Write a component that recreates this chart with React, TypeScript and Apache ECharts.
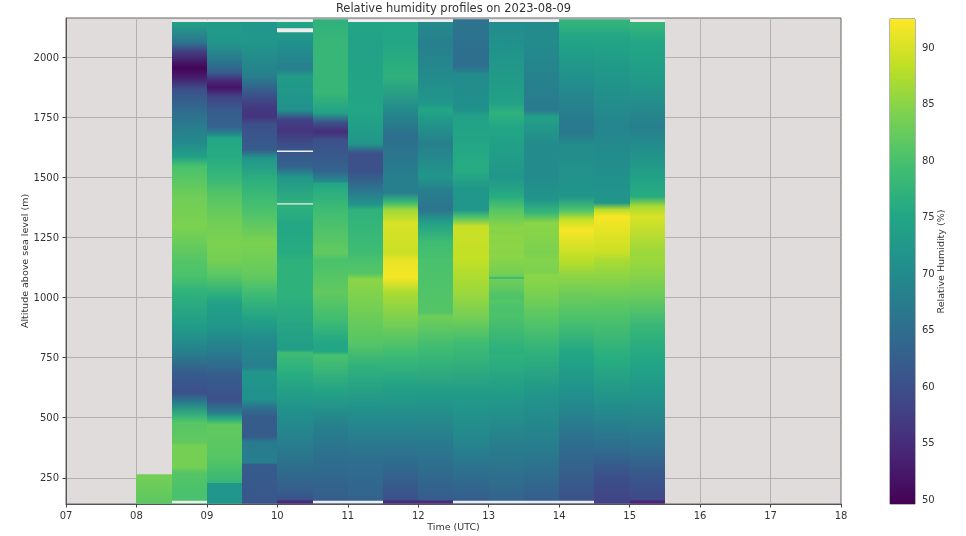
import React, { useEffect, useRef } from "react";
import * as echarts from "echarts";

const TITLE = "Relative humidity profiles on 2023-08-09";
const hourLabels = ["07", "08", "09", "10", "11", "12", "13", "14", "15", "16", "17", "18"];
const altitudeTicks = [250, 500, 750, 1000, 1250, 1500, 1750, 2000];
const humidityTicks = [50, 55, 60, 65, 70, 75, 80, 85, 90];

// Column start times (hour UTC); each column lasts half an hour.
const columnStarts = [8, 8.5, 9, 9.5, 10, 10.5, 11, 11.5, 12, 12.5, 13, 13.5, 14, 14.5, 15];
const columnWidth = 0.5;

// Each profile: [altitude m, relative humidity %], from top to bottom.
const p0800 = [[265, 83.5], [142, 81.5]];
const p0830 = [[2146, 74], [2060, 66], [2020, 57], [1955, 50], [1915, 53], [1865, 60], [1750, 66], [1640, 70], [1585, 74], [1545, 80], [1420, 83], [1295, 84], [1200, 82], [1155, 81], [1085, 80], [1020, 77], [880, 73], [770, 68], [687, 62], [604, 60], [562, 68], [505, 78], [480, 81], [395, 82], [385, 83.5], [295, 83.5], [270, 81], [188, 80], [142, 80]];
const p0900 = [[2146, 73], [2060, 72], [1990, 67], [1935, 62], [1898, 54], [1873, 52], [1836, 58], [1780, 62], [1710, 63], [1677, 70], [1665, 75], [1585, 76], [1502, 78], [1420, 81], [1323, 83], [1228, 84], [1155, 83.5], [1085, 81], [1020, 77], [978, 74], [880, 72], [770, 67], [670, 62], [575, 60], [520, 68], [491, 77], [470, 82], [325, 81], [229, 78], [227, 72], [142, 72]];
const p0930 = [[2146, 72], [2060, 72], [1920, 68], [1850, 61], [1795, 57], [1752, 56], [1720, 60], [1615, 62], [1580, 72], [1477, 77], [1365, 80], [1228, 84], [1155, 83], [1085, 82], [1020, 79], [907, 74], [824, 70], [712, 68], [690, 72], [575, 71], [545, 66], [505, 62], [421, 62], [400, 67], [312, 68], [305, 62], [142, 61]];
const p1000 = [[2146, 75], [2060, 71], [1950, 68], [1920, 73], [1780, 71], [1740, 58], [1698, 56], [1615, 61], [1545, 63], [1502, 72], [1390, 77], [1295, 75], [1186, 76], [1155, 77], [1020, 77], [783, 73], [770, 79], [677, 76], [533, 71], [395, 68], [188, 62], [158, 60], [154, 55], [142, 55]];
const p1030 = [[2158, 77], [2060, 78], [1850, 78], [1768, 74], [1727, 60], [1690, 55], [1655, 60], [1530, 63], [1482, 70], [1475, 75], [1365, 79], [1186, 82], [1155, 80], [1020, 82], [907, 79], [810, 75], [775, 75], [760, 80], [604, 74], [462, 68], [325, 65], [142, 62]];
const p1100 = [[2146, 75], [2060, 74], [1780, 75], [1640, 72], [1600, 60], [1530, 60], [1450, 66], [1386, 72], [1365, 77], [1186, 79], [1155, 80], [1100, 81], [1075, 85], [990, 84], [810, 81], [712, 77], [533, 71], [325, 65], [142, 63]];
const p1130 = [[2146, 75], [2060, 75], [1920, 77], [1780, 70], [1670, 65], [1500, 68], [1435, 68], [1398, 78], [1365, 86], [1310, 90], [1186, 89], [1155, 91], [1085, 92], [1020, 87], [880, 83], [770, 79], [630, 74], [462, 69], [325, 65], [158, 60], [154, 55], [142, 55]];
const p1200 = [[2146, 70], [2060, 68], [1920, 70], [1810, 72], [1780, 75], [1750, 73], [1640, 68], [1502, 72], [1450, 68], [1365, 66], [1310, 74], [1228, 79], [1155, 80], [936, 81], [920, 83], [790, 79], [604, 73], [395, 67], [158, 62], [154, 55], [142, 55]];
const p1230 = [[2158, 64], [2150, 66], [1960, 65], [1930, 70], [1780, 71], [1750, 74], [1640, 75], [1530, 76], [1450, 72], [1365, 72], [1336, 80], [1295, 89], [1155, 88.5], [1020, 86], [907, 83], [810, 79], [604, 73], [395, 69], [270, 65], [142, 62]];
const p1300 = [[2146, 70], [2060, 71], [1810, 74], [1768, 77], [1710, 75], [1502, 72], [1420, 76], [1365, 81], [1290, 85], [1272, 84.6], [1255, 85.2], [1232, 84.8], [1215, 85.2], [1190, 84.8], [1172, 85], [1150, 84.6], [1120, 84], [1088, 83], [1085, 79], [1078, 79], [1075, 83], [1040, 82], [1020, 81], [1000, 80.4], [985, 81], [950, 80], [925, 80.4], [790, 77], [775, 76.6], [760, 77], [604, 73], [395, 68], [142, 63]];
const p1330 = [[2146, 70], [2060, 70], [1780, 67], [1750, 74], [1640, 70], [1500, 70], [1407, 72], [1353, 78], [1310, 85], [1186, 84], [1155, 84.5], [1103, 84], [1095, 85], [1020, 84], [907, 81], [770, 77], [604, 72], [395, 68], [142, 62]];
const p1400 = [[2158, 78], [2085, 75], [1920, 71], [1740, 67], [1680, 67], [1640, 70], [1420, 72], [1365, 80], [1323, 89], [1280, 92], [1155, 88], [1085, 85], [1020, 83], [907, 80], [770, 75], [604, 71], [395, 65], [142, 60]];
const p1430 = [[2158, 78], [2085, 75], [1920, 72], [1710, 69], [1500, 71], [1394, 72], [1365, 88], [1337, 92], [1186, 89], [1155, 87], [1085, 85], [950, 81], [740, 76], [533, 70], [380, 65], [254, 60], [142, 58]];
const p1500 = [[2146, 78], [2060, 75], [1920, 73], [1710, 68], [1640, 70], [1500, 74], [1420, 76], [1378, 87], [1337, 90], [1186, 86], [1155, 86], [1020, 83], [880, 78], [740, 75], [604, 72], [395, 66], [254, 61], [158, 59], [154, 54], [142, 54]];
const profiles = [p0800, p0830, p0900, p0930, p1000, p1030, p1100, p1130, p1200, p1230, p1300, p1330, p1400, p1430, p1500];

// Altitude spans with no data, per column index: [column, upper altitude, lower altitude].
const noDataSpans = [
  [1, 2156, 2146], [2, 2156, 2146], [3, 2156, 2146], [4, 2156, 2146], [6, 2156, 2146], [7, 2156, 2146],
  [8, 2156, 2146], [10, 2156, 2146], [11, 2156, 2146], [14, 2156, 2146],
  [4, 2120, 2104], [4, 1612, 1606], [4, 1392, 1387],
  [1, 155, 144], [5, 155, 144], [6, 155, 144], [9, 155, 144], [10, 155, 144], [11, 155, 144], [12, 155, 144],
];

const viridis = ["#440154", "#482475", "#414487", "#355f8d", "#2a788e", "#21918c", "#22a884", "#44bf70", "#7ad151", "#bddf26", "#fde725"];
const colorMin = 49.56;
const colorMax = 92.5;

function hexToRgb(h: string) {
  return [parseInt(h.slice(1, 3), 16), parseInt(h.slice(3, 5), 16), parseInt(h.slice(5, 7), 16)];
}
function colorOf(v: number) {
  const t = Math.min(1, Math.max(0, (v - colorMin) / (colorMax - colorMin))) * (viridis.length - 1);
  const i = Math.min(viridis.length - 2, Math.floor(t));
  const f = t - i;
  const a = hexToRgb(viridis[i]);
  const b = hexToRgb(viridis[i + 1]);
  const c = a.map((x, k) => Math.round(x + (b[k] - x) * f));
  return `rgb(${c[0]},${c[1]},${c[2]})`;
}

const renderColumn = (params: any, api: any) => {
  const idx = params.dataIndex;
  const start = columnStarts[idx];
  const stops = profiles[idx];
  const top = stops[0][0];
  const bottom = stops[stops.length - 1][0];
  const x0 = Math.round(api.coord([start, top])[0]);
  const x1 = Math.round(api.coord([start + columnWidth, top])[0]);
  const y0 = api.coord([start, top])[1];
  const y1 = api.coord([start, bottom])[1];
  const colorStops = stops.map(([a, v]) => ({ offset: (top - a) / (top - bottom), color: colorOf(v) }));
  const children: any[] = [
    {
      type: "rect",
      shape: { x: x0, y: y0, width: x1 - x0, height: y1 - y0 },
      style: { fill: new echarts.graphic.LinearGradient(0, 0, 0, 1, colorStops) },
    },
  ];
  noDataSpans
    .filter((s) => s[0] === idx)
    .forEach((s) => {
      const ya = api.coord([start, s[1]])[1];
      const yb = api.coord([start, s[2]])[1];
      children.push({
        type: "rect",
        shape: { x: x0, y: ya, width: x1 - x0, height: yb - ya },
        style: { fill: "#eeecec" },
      });
    });
  return { type: "group", children };
};

const renderColorbar = (_params: any, api: any) => {
  const a = api.coord([0, colorMax]);
  const b = api.coord([1, colorMin]);
  const stops = viridis.map((c, i) => ({ offset: 1 - i / (viridis.length - 1), color: c })).reverse();
  return {
    type: "rect",
    shape: { x: a[0], y: a[1], width: b[0] - a[0], height: b[1] - a[1] },
    style: { fill: new echarts.graphic.LinearGradient(0, 0, 0, 1, stops) },
  };
};

const font = "DejaVu Sans";
const ink = "#333333";
const gridInk = "#b2b0b0";

export default function App() {
  const ref = useRef<HTMLDivElement>(null);
  useEffect(() => {
    const chart = echarts.init(ref.current!, undefined, { renderer: "svg" });
    chart.setOption({
      animation: false,
      backgroundColor: "#ffffff",
      title: {
        text: TITLE,
        left: 453.5,
        top: 2,
        padding: 0,
        textAlign: "center",
        textStyle: { fontFamily: font, fontSize: 11.5, fontWeight: "normal", color: ink },
      },
      grid: [
        { left: 66, top: 18, width: 775, height: 486, outerBoundsMode: "none", show: true, backgroundColor: "#e0dcdc", borderColor: "#666", borderWidth: 1 },
        { left: 890, top: 19, width: 25, height: 485, outerBoundsMode: "none", show: true, backgroundColor: "transparent", borderColor: "#666", borderWidth: 1 },
      ],
      xAxis: [
        {
          gridIndex: 0,
          type: "value",
          min: 7,
          max: 18,
          interval: 1,
          name: "Time (UTC)",
          nameLocation: "middle",
          nameGap: 17,
          nameMoveOverlap: false,
          nameTextStyle: { fontFamily: font, fontSize: 9.5, color: ink },
          axisLine: { lineStyle: { color: "#555" } },
          axisTick: { length: 3.5, lineStyle: { color: "#444" } },
          axisLabel: { fontFamily: font, fontSize: 10, color: ink, margin: 6, formatter: (v: number) => hourLabels[v - 7] },
          splitLine: { show: true, lineStyle: { color: gridInk, width: 1 } },
        },
        { gridIndex: 1, type: "value", min: 0, max: 1, show: false },
      ],
      yAxis: [
        {
          gridIndex: 0,
          type: "value",
          min: 141,
          max: 2163,
          splitNumber: 8,
          name: "Altitude above sea level (m)",
          nameLocation: "middle",
          nameGap: 37,
          nameMoveOverlap: false,
          nameTextStyle: { fontFamily: font, fontSize: 9.5, color: ink },
          axisLine: { show: true, lineStyle: { color: "#555" } },
          axisTick: { show: true, length: 3.5, lineStyle: { color: "#444" }, customValues: altitudeTicks },
          axisLabel: { fontFamily: font, fontSize: 10, color: ink, margin: 7, customValues: altitudeTicks, formatter: (v: number) => String(v) },
          splitLine: { show: true, lineStyle: { color: gridInk, width: 1 } },
        },
        {
          gridIndex: 1,
          type: "value",
          min: colorMin,
          max: colorMax,
          splitNumber: 9,
          position: "right",
          name: "Relative Humidity (%)",
          nameLocation: "middle",
          nameGap: 20,
          nameRotate: 90,
          nameMoveOverlap: false,
          nameTextStyle: { fontFamily: font, fontSize: 9.5, color: ink },
          axisLine: { show: false },
          axisTick: { show: true, length: 3.5, lineStyle: { color: "#444" }, customValues: humidityTicks },
          axisLabel: { fontFamily: font, fontSize: 10, color: ink, margin: 7, customValues: humidityTicks, formatter: (v: number) => String(v) },
          splitLine: { show: false },
        },
      ],
      series: [
        {
          type: "custom",
          xAxisIndex: 0,
          yAxisIndex: 0,
          clip: true,
          renderItem: renderColumn,
          data: columnStarts.map((s, i) => [s, profiles[i][0][1]]),
          silent: true,
        },
        {
          type: "custom",
          xAxisIndex: 1,
          yAxisIndex: 1,
          renderItem: renderColorbar,
          data: [[0, colorMin]],
          silent: true,
        },
      ],
    });
    return () => chart.dispose();
  }, []);
  return <div ref={ref} style={{ position: "fixed", left: 0, top: 0, width: 966, height: 536, filter: "blur(0.4px)" }} />;
}
